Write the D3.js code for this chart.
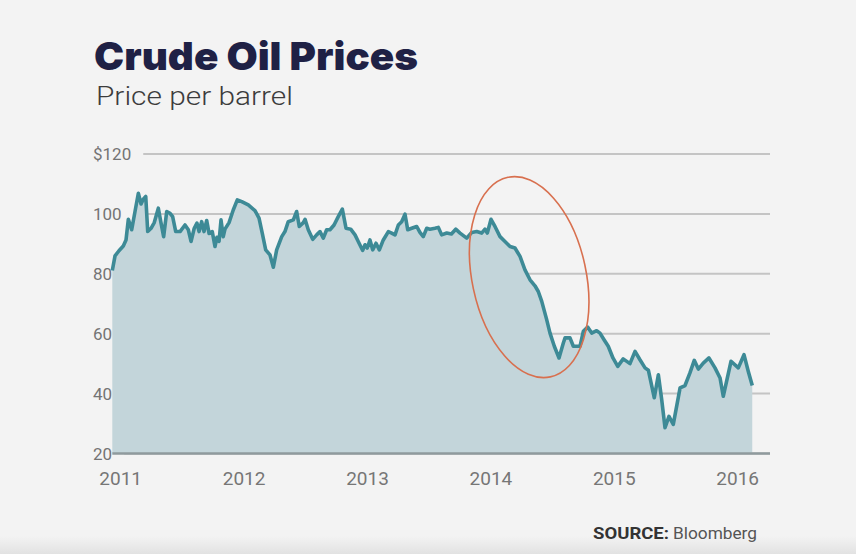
<!DOCTYPE html>
<html><head><meta charset="utf-8">
<script src="https://cdn.jsdelivr.net/npm/d3@7"></script>
<style>html,body{margin:0;padding:0;background:#f3f3f3;}svg{display:block}</style>
</head><body><svg id="c" width="856" height="554"></svg>
<script>
const title = "Crude Oil Prices";
const subtitle = "Price per barrel";
const sourceLabel = "SOURCE:";
const sourceName = "Bloomberg";
const yTicks = [20, 40, 60, 80, 100, 120];
const xTicks = [2011, 2012, 2013, 2014, 2015, 2016];
const dates = [
2010.932,2010.954,2010.986,2011.021,2011.043,2011.062,2011.089,2011.116,2011.143,2011.165,
2011.183,2011.203,2011.219,2011.246,2011.272,2011.305,2011.327,2011.348,2011.373,2011.400,
2011.421,2011.446,2011.481,2011.521,2011.548,2011.570,2011.596,2011.618,2011.635,2011.656,
2011.675,2011.697,2011.716,2011.742,2011.764,2011.780,2011.797,2011.813,2011.831,2011.845,
2011.878,2011.912,2011.945,2011.981,2012.034,2012.088,2012.121,2012.147,2012.175,2012.210,
2012.237,2012.264,2012.305,2012.331,2012.358,2012.399,2012.426,2012.447,2012.480,2012.494,
2012.520,2012.556,2012.588,2012.615,2012.642,2012.669,2012.696,2012.729,2012.763,2012.796,
2012.826,2012.864,2012.899,2012.925,2012.961,2012.980,2012.998,2013.020,2013.042,2013.069,
2013.096,2013.128,2013.169,2013.196,2013.223,2013.250,2013.277,2013.304,2013.326,2013.358,
2013.399,2013.425,2013.452,2013.480,2013.506,2013.547,2013.574,2013.601,2013.642,2013.680,
2013.715,2013.750,2013.804,2013.844,2013.885,2013.925,2013.952,2013.971,2014.001,2014.033,
2014.074,2014.114,2014.155,2014.195,2014.236,2014.276,2014.317,2014.357,2014.384,2014.412,
2014.452,2014.479,2014.514,2014.552,2014.587,2014.601,2014.641,2014.668,2014.722,2014.749,
2014.784,2014.817,2014.857,2014.884,2014.917,2014.951,2014.989,2015.028,2015.072,2015.127,
2015.168,2015.208,2015.249,2015.276,2015.324,2015.357,2015.384,2015.411,2015.443,2015.478,
2015.533,2015.573,2015.613,2015.648,2015.681,2015.721,2015.767,2015.816,2015.857,2015.883,
2015.946,2016.005,2016.051,2016.086,2016.118
];
const prices = [
81.1,86.0,87.7,89.3,91.3,98.2,94.7,100.8,106.9,103.3,
104.9,105.8,94.1,95.2,97.1,101.9,96.9,92.4,100.8,100.2,
99.1,94.1,94.1,96.3,94.7,90.8,95.2,96.9,94.1,97.4,
94.1,97.8,93.5,94.1,89.1,92.2,90.8,98.0,92.4,94.9,
97.1,101.3,104.7,104.1,103.0,101.1,98.6,93.6,88.0,86.3,
82.2,88.0,92.4,94.1,97.4,98.0,100.8,95.8,97.1,98.2,
94.7,91.5,93.0,94.1,91.9,94.7,94.7,96.3,99.1,101.6,
95.2,94.9,93.0,90.8,87.8,89.7,88.6,91.3,88.0,90.2,
88.0,91.3,94.1,93.6,93.0,96.3,97.4,99.9,94.7,95.2,
95.8,93.8,92.4,95.2,94.9,95.2,95.5,93.0,93.6,93.3,
94.9,93.6,91.9,93.8,94.1,93.6,94.9,93.6,98.2,95.8,
92.4,90.8,89.1,88.6,85.8,81.3,78.0,76.0,74.1,70.8,
64.7,60.2,55.8,51.9,56.9,58.6,58.6,55.8,55.8,60.8,
62.2,60.2,61.0,60.2,58.0,55.8,51.9,49.1,51.6,50.0,
54.1,51.3,48.6,47.8,38.6,46.3,38.0,28.6,32.4,29.7,
41.9,42.7,46.9,51.1,48.2,50.2,51.9,48.6,45.2,39.1,
50.8,48.6,53.0,47.4,42.7
];
const highlight = {from: 2014.31, value: 78.9};

const data = dates.map((d, i) => ({date: d, price: prices[i]}));
const svg = d3.select("#c");

const defs = svg.append("defs");
const g1 = defs.append("linearGradient").attr("id","vig").attr("x1",0).attr("y1",0).attr("x2",0).attr("y2",1);
g1.append("stop").attr("offset","0%").attr("stop-color","#f3f3f3");
g1.append("stop").attr("offset","100%").attr("stop-color","#e2e2e2");
svg.append("rect").attr("width",856).attr("height",554).attr("fill","#f3f3f3");
svg.append("rect").attr("y",536).attr("width",856).attr("height",18).attr("fill","url(#vig)");

const x = d3.scaleLinear().domain([2011, 2016]).range([120.7, 737.7]);
const y = d3.scaleLinear().domain([20, 120]).range([453.5, 154]);
const gridRight = 770;

// title
svg.append("text").attr("x",94).attr("y",70)
  .attr("font-family","Inter, 'Noto Sans', sans-serif").attr("font-weight",900)
  .attr("font-size",39).attr("fill","#1f2145")
  .attr("textLength",324).attr("lengthAdjust","spacingAndGlyphs")
  .text(title);
svg.append("text").attr("x",96).attr("y",104.5)
  .attr("font-family","Roboto, 'Open Sans', sans-serif").attr("font-weight",300)
  .attr("font-size",25.5).attr("fill","#3c3c3c")
  .attr("textLength",197).attr("lengthAdjust","spacingAndGlyphs")
  .text(subtitle);

// y grid + labels
const yAxis = svg.append("g");
yTicks.forEach(t => {
  const lab = yAxis.append("text").attr("x",93).attr("y",y(t)+6)
    .attr("font-family","Roboto, sans-serif").attr("font-size",17).attr("fill","#747474")
    .text(t === 120 ? "$" + t : t);
  const w = lab.node().getComputedTextLength();
  yAxis.insert("line", "text").attr("x1", 93 + w + 12).attr("x2", gridRight)
    .attr("y1", y(t)).attr("y2", y(t))
    .attr("stroke", "#c4c4c4").attr("stroke-width", 2);
});

// area + line
const area = d3.area().x(d => x(d.date)).y0(y(20)).y1(d => y(d.price));
const line = d3.line().x(d => x(d.date)).y(d => y(d.price));
svg.append("path").datum(data).attr("d", area).attr("fill","#c3d5da");
svg.append("line").attr("x1",x(dates[0])).attr("x2",gridRight).attr("y1",y(20)).attr("y2",y(20))
  .attr("stroke","#8f9a9d").attr("stroke-width",2.5);
svg.append("path").datum(data).attr("d", line).attr("fill","none")
  .attr("stroke","#3d8a96").attr("stroke-width",3.6).attr("stroke-linejoin","round");

// x labels
xTicks.forEach(t => {
  svg.append("text").attr("x", x(t)).attr("y", 484.5).attr("text-anchor","middle")
    .attr("font-family","Roboto, sans-serif").attr("font-size",19).attr("fill","#767676")
    .text(t);
});

// highlight ellipse
svg.append("ellipse").attr("cx",0).attr("cy",0).attr("rx",57).attr("ry",102)
  .attr("transform",`translate(${x(highlight.from)},${y(highlight.value)}) rotate(-12)`)
  .attr("fill","none").attr("stroke","#d8704f").attr("stroke-width",1.6);

// source
svg.append("text").attr("x",593).attr("y",538.5)
  .attr("font-family","Roboto, 'Open Sans', sans-serif").attr("font-size",16).attr("font-weight",700)
  .attr("fill","#333").attr("textLength",76).attr("lengthAdjust","spacingAndGlyphs").text(sourceLabel);
svg.append("text").attr("x",673).attr("y",538.5)
  .attr("font-family","Roboto, 'Open Sans', sans-serif").attr("font-size",16).attr("font-weight",400)
  .attr("fill","#555").attr("textLength",84).attr("lengthAdjust","spacingAndGlyphs").text(sourceName);
</script>
</body></html>
